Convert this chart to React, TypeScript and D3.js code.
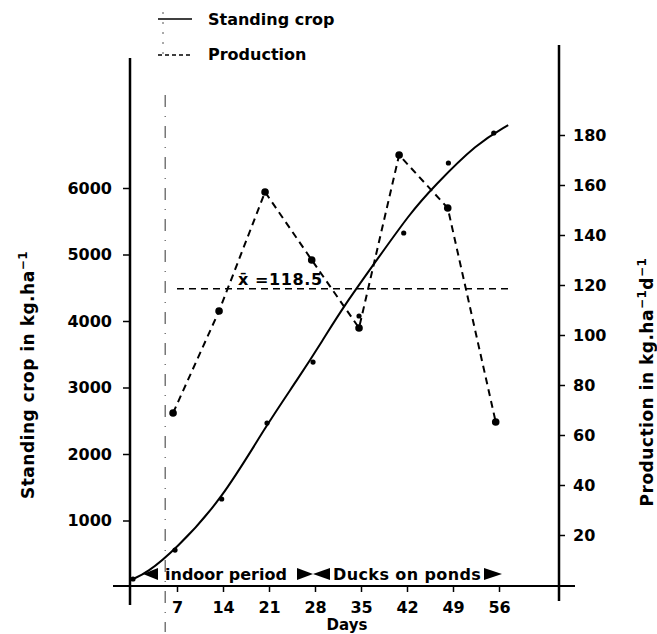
import React, { useEffect, useRef } from "react"
import * as d3 from "d3"

// standing crop (kg/ha), sampled dots
const cropDays = [0.3, 6.7, 13.8, 20.7, 27.7, 34.7, 41.5, 48.3, 55.2]
const cropValues = [120, 556, 1323, 2466, 3383, 4075, 5323, 6376, 6827]

// fitted growth curve
const curveDays = [0.3, 2.4, 6.7, 13.8, 20.7, 25.3, 29.2, 32.3, 37.4, 42.5, 46.0, 52.7, 57.4]
const curveValues = [120, 210, 556, 1308, 2451, 3113, 3714, 4211, 4917, 5624, 6015, 6677, 6947]

// production (kg/ha/d)
const prodDays = [6.4, 13.4, 20.4, 27.5, 34.7, 40.8, 48.2, 55.5]
const prodValues = [68.8, 109.6, 157.2, 130, 102.8, 172, 150.8, 65.2]

const meanProd = 118.5
const meanFrom = 7
const meanTo = 57.5
const indoorEnd = 5.2

const dayTicks = [7, 14, 21, 28, 35, 42, 49, 56]
const cropTicks = [1000, 2000, 3000, 4000, 5000, 6000]
const prodTicks = [20, 40, 60, 80, 100, 120, 140, 160, 180]

const FONT = "'DejaVu Sans', Verdana, sans-serif"

function App() {
    const ref = useRef<SVGSVGElement>(null)

    useEffect(() => {
        const svg = d3.select(ref.current)
        svg.selectAll("*").remove()

        const x = d3.scaleLinear().domain([0, 56]).range([131, 499])
        const yL = d3.scaleLinear().domain([0, 6000]).range([587, 188])
        const yR = d3.scaleLinear().domain([0, 180]).range([585, 135])

        const g = svg.append("g").attr("font-family", FONT).attr("font-weight", "bold")

        // axis lines
        g.append("line").attr("x1", 113).attr("x2", 575).attr("y1", 586).attr("y2", 586)
            .attr("stroke", "#000").attr("stroke-width", 2)
        g.append("line").attr("x1", 130).attr("x2", 130).attr("y1", 58).attr("y2", 605)
            .attr("stroke", "#000").attr("stroke-width", 2.5)
        g.append("line").attr("x1", 559).attr("x2", 559).attr("y1", 45).attr("y2", 601)
            .attr("stroke", "#000").attr("stroke-width", 2.5)

        // ticks
        const bottom = g.append("g").attr("transform", "translate(0,586)")
            .call(d3.axisBottom(x).tickValues(dayTicks).tickSize(6))
        const left = g.append("g").attr("transform", "translate(130,0)")
            .call(d3.axisLeft(yL).tickValues(cropTicks).tickFormat(d3.format("d")).tickSize(7).tickPadding(11))
        const right = g.append("g").attr("transform", "translate(559,0)")
            .call(d3.axisRight(yR).tickValues(prodTicks).tickSize(6).tickPadding(8))
        ;[bottom, left, right].forEach(ax => {
            ax.select(".domain").remove()
            ax.selectAll("line").attr("stroke", "#000").attr("stroke-width", 1.5)
            ax.selectAll("text").attr("font-family", FONT).attr("font-weight", "bold")
                .attr("font-size", 16).attr("fill", "#000")
        })
        bottom.selectAll("text").attr("y", 27).attr("dy", 0)

        // indoor / ponds divider
        g.append("line").attr("x1", x(indoorEnd)).attr("x2", x(indoorEnd))
            .attr("y1", 95).attr("y2", 632)
            .attr("stroke", "#333").attr("stroke-width", 1)
            .attr("stroke-dasharray", "12,9,1,9")

        // mean production
        g.append("line").attr("x1", x(meanFrom)).attr("x2", x(meanTo))
            .attr("y1", yR(meanProd)).attr("y2", yR(meanProd))
            .attr("stroke", "#000").attr("stroke-width", 1.3)
            .attr("stroke-dasharray", "7,5")
        g.append("text").attr("x", 238).attr("y", yR(meanProd) - 4)
            .attr("font-size", 16).attr("letter-spacing", 0.6).text("x\u0304 =118.5")

        // standing crop curve + dots
        const curve = d3.line<number>()
            .x((d, i) => x(curveDays[i]))
            .y(d => yL(d))
            .curve(d3.curveBasis)
        g.append("path").attr("d", curve(curveValues))
            .attr("fill", "none").attr("stroke", "#000").attr("stroke-width", 2)
        g.selectAll(".crop").data(cropValues).enter().append("circle")
            .attr("cx", (d, i) => x(cropDays[i])).attr("cy", d => yL(d))
            .attr("r", 2.6).attr("fill", "#000")

        // production
        const prodLine = d3.line<number>()
            .x((d, i) => x(prodDays[i]))
            .y(d => yR(d))
        g.append("path").attr("d", prodLine(prodValues))
            .attr("fill", "none").attr("stroke", "#000").attr("stroke-width", 2)
            .attr("stroke-dasharray", "7,5")
        g.selectAll(".prod").data(prodValues).enter().append("circle")
            .attr("cx", (d, i) => x(prodDays[i])).attr("cy", d => yR(d))
            .attr("r", 3.8).attr("fill", "#000")

        // period annotations
        const ay = 574
        const tri = (tip: number, base: number) =>
            g.append("path").attr("d", `M${tip},${ay}L${base},${ay - 6}L${base},${ay + 6}Z`).attr("fill", "#000")
        tri(143, 158)
        tri(313, 297)
        tri(313, 330)
        tri(502, 484)
        g.append("text").attr("x", 165).attr("y", 580).attr("font-size", 16).text("indoor period")
        g.append("text").attr("x", 333).attr("y", 580).attr("font-size", 16)
            .attr("letter-spacing", 0.4).text("Ducks on ponds")

        // legend
        g.append("line").attr("x1", 158).attr("x2", 192).attr("y1", 19).attr("y2", 19)
            .attr("stroke", "#000").attr("stroke-width", 1.5)
        g.append("line").attr("x1", 158).attr("x2", 192).attr("y1", 55).attr("y2", 55)
            .attr("stroke", "#000").attr("stroke-width", 1.5).attr("stroke-dasharray", "4,3")
        g.append("line").attr("x1", 163).attr("x2", 163).attr("y1", 12).attr("y2", 60)
            .attr("stroke", "#555").attr("stroke-width", 1).attr("stroke-dasharray", "2,8")
        g.append("text").attr("x", 208).attr("y", 25).attr("font-size", 16).text("Standing crop")
        g.append("text").attr("x", 208).attr("y", 60).attr("font-size", 16).text("Production")

        // axis titles
        g.append("text").attr("x", 347).attr("y", 630).attr("text-anchor", "middle")
            .attr("font-size", 15).text("Days")

        const lt = g.append("text").attr("transform", "translate(34,375) rotate(-90)")
            .attr("text-anchor", "middle").attr("font-size", 17).attr("letter-spacing", 0.5)
        lt.append("tspan").text("Standing crop in kg.ha")
        lt.append("tspan").attr("dy", -7).attr("font-size", 12).text("\u22121")

        const rt = g.append("text").attr("transform", "translate(653,382) rotate(-90)")
            .attr("text-anchor", "middle").attr("font-size", 17).attr("letter-spacing", 0.5)
        rt.append("tspan").text("Production in kg.ha")
        rt.append("tspan").attr("dy", -7).attr("font-size", 12).text("\u22121")
        rt.append("tspan").attr("dy", 7).text("d")
        rt.append("tspan").attr("dy", -7).attr("font-size", 12).text("\u22121")
    }, [])

    return (
        <svg ref={ref} width={657} height={634}
            style={{ position: "absolute", left: 0, top: 0, background: "#fff" }} />
    )
}

export default App
